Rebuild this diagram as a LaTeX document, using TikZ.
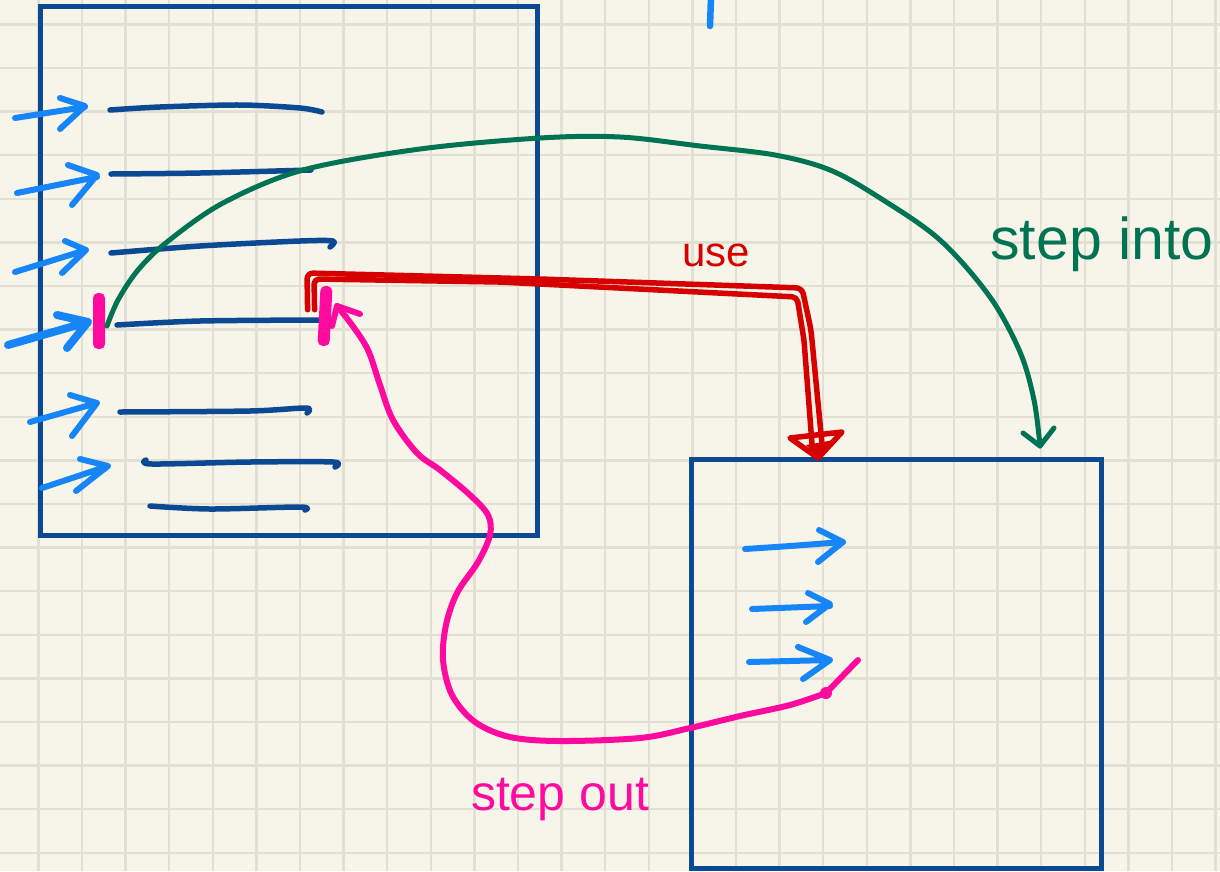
\documentclass[tikz,border=0pt]{standalone}
\usepackage{fontspec}
\setmainfont{Liberation Sans}
\usetikzlibrary{calc}

\definecolor{paper}{HTML}{F7F5EA}
\definecolor{gridc}{HTML}{E2DFD3}
\definecolor{ink}{HTML}{0B4A92}
\definecolor{sky}{HTML}{1685F8}
\definecolor{leaf}{HTML}{007352}
\definecolor{crimson}{HTML}{D60000}
\definecolor{hotpink}{HTML}{FF0A9E}

\tikzset{
  hand/.style={line cap=round, line join=round},
  frame/.style={draw=ink, line width=5pt, rectangle, inner sep=0pt, outer sep=0pt},
  textline/.style={draw=ink, line width=5.5pt, hand},
  skyline/.style={draw=sky, line width=6pt, hand},
  leafline/.style={draw=leaf, line width=5pt, hand},
  redline/.style={draw=crimson, line width=5.5pt, hand},
  pinkline/.style={draw=hotpink, line width=6pt, hand},
  pinkmark/.style={fill=hotpink, rectangle, rounded corners=5pt, minimum width=12pt, inner sep=0pt, outer sep=0pt},
  label/.style={anchor=base, inner sep=0pt}
}

\begin{document}
\begin{tikzpicture}[x=1pt, y=-1pt]
  % paper and grid
  \fill[paper] (0,0) rectangle (1220,871);
  \useasboundingbox (0,0) rectangle (1220,871);
  \foreach \k in {0,...,27}
    \draw[gridc, line width=2.5pt] ({38.4+43.6*\k},0) -- ({38.4+43.6*\k},871);
  \foreach \k in {0,...,19}
    \draw[gridc, line width=2.5pt] (0,{24.4+43.6*\k}) -- (1220,{24.4+43.6*\k});

  % the two frames
  \node[frame, minimum width=497pt, minimum height=529pt] (caller) at (288.5,270.5) {};
  \node[frame, minimum width=410pt, minimum height=409pt] (callee) at (896,663.5) {};

  % stray stroke at the top
  \draw[skyline, line width=6.5pt] (711,-3) -- (710,26);

  % statement lines in the caller
  \draw[textline] plot[smooth] coordinates {(110,110) (160,107) (240,105) (300,108) (322,112)};
  \draw[textline] plot[smooth] coordinates {(111,174) (200,173) (311,170)};
  \draw[textline] plot[smooth] coordinates {(111,253) (200,246) (300,241) (333,241) (330,247)};
  \draw[textline] plot[smooth] coordinates {(117,325) (200,321) (320,320)};
  \draw[textline] plot[smooth] coordinates {(120,412) (250,411) (306,408) (307,413)};
  \draw[textline] plot[smooth] coordinates {(146,460) (152,464) (250,462) (333,462) (335,467)};
  \draw[textline] plot[smooth] coordinates {(150,506) (210,509) (300,507) (305,510)};

  % step arrows in the caller
  \draw[skyline] (15,118) -- (85,107) (60,98) -- (85,106) -- (60,129);
  \draw[skyline] (17,193) -- (97,177) (68,165) -- (97,175) -- (72,205);
  \draw[skyline] (15,272) -- (86,250) (65,241) -- (86,250) -- (62,273);
  \draw[skyline, line width=8pt] (8,345) -- (88,322) (57,315) -- (88,322) -- (67,348);
  \draw[skyline] (30,422) -- (97,403) (70,395) -- (97,403) -- (72,436);
  \draw[skyline] (42,488) -- (108,466) (80,459) -- (108,466) -- (76,491);

  % step arrows in the callee
  \draw[skyline] plot[smooth] coordinates {(745,549) (790,546) (843,542)};
  \draw[skyline] (819,530) -- (843,542) -- (818,562);
  \draw[skyline] (752,609) -- (830,606) (808,593) -- (830,604) -- (806,622);
  \draw[skyline] (749,662) -- (830,660) (798,647) -- (830,660) -- (803,679);

  % call site and return site marks
  \node[pinkmark, minimum height=56pt] (callsite) at (99,321) {};
  \node[pinkmark, minimum height=60pt, rotate=-3] (retsite) at (325,316) {};

  % step into
  \coordinate (intoTip) at (1040,446);
  \draw[leafline] plot[smooth, tension=0.55] coordinates {
    ($(callsite.east)+(2,5)$) (118,300) (138,270) (167,242) (223,203) (303,170)
    (420,149) (540,138) (620,137) (700,146) (775,155) (830,170) (880,198)
    (940,240) (990,297) (1020,352) (1034,400) (intoTip)};
  \draw[leafline] ($(intoTip)+(-17,-13)$) -- (intoTip) -- ($(intoTip)+(14,-18)$);
  \node[label, text=leaf, font=\fontsize{59}{62}\selectfont] (intoLabel) at (1102,259) {step into};

  % use (double stroke)
  \coordinate (useTip) at (818,458);
  \draw[redline, rounded corners=6pt]
    ($(retsite.north west)+(-13,24)$) -- (307,273) -- (540,279) -- (802,288)
    -- (811,330) -- ($(useTip)+(4,-14)$);
  \draw[redline, rounded corners=5pt]
    ($(retsite.north west)+(-6,24)$) -- (314,279) -- (500,282) -- (797,297)
    -- (804,340) -- ($(useTip)+(-6,-14)$);
  \fill[crimson] (806,445) -- (834,440) -- (useTip) -- cycle;
  \draw[redline] (790,438) -- (842,432) -- (useTip) -- cycle;
  \node[label, text=crimson, font=\fontsize{42}{46}\selectfont] (useLabel) at (716,266) {use};

  % step out
  \coordinate (outTip) at (337,306);
  \coordinate (outBend) at (826,693);
  \draw[pinkline] plot[smooth, tension=0.55] coordinates {
    (outTip) (352,325) (368,350) (380,385) (393,420) (417,453) (440,470)
    (470,495) (488,515) (490,535) (478,562) (457,593) (446,625) (443,660)
    (452,695) (475,722) (510,737) (560,741) (640,738) (690,728) (740,716)
    (790,705) (outBend)};
  \draw[pinkline] (outBend) -- (858,660);
  \fill[hotpink] (outBend) circle (6pt);
  \draw[pinkline] ($(outTip)+(23,8)$) -- (outTip) -- ($(outTip)+(-5,20)$);
  \node[label, text=hotpink, font=\fontsize{50}{54}\selectfont] (outLabel) at (560,810) {step out};
\end{tikzpicture}
\end{document}
